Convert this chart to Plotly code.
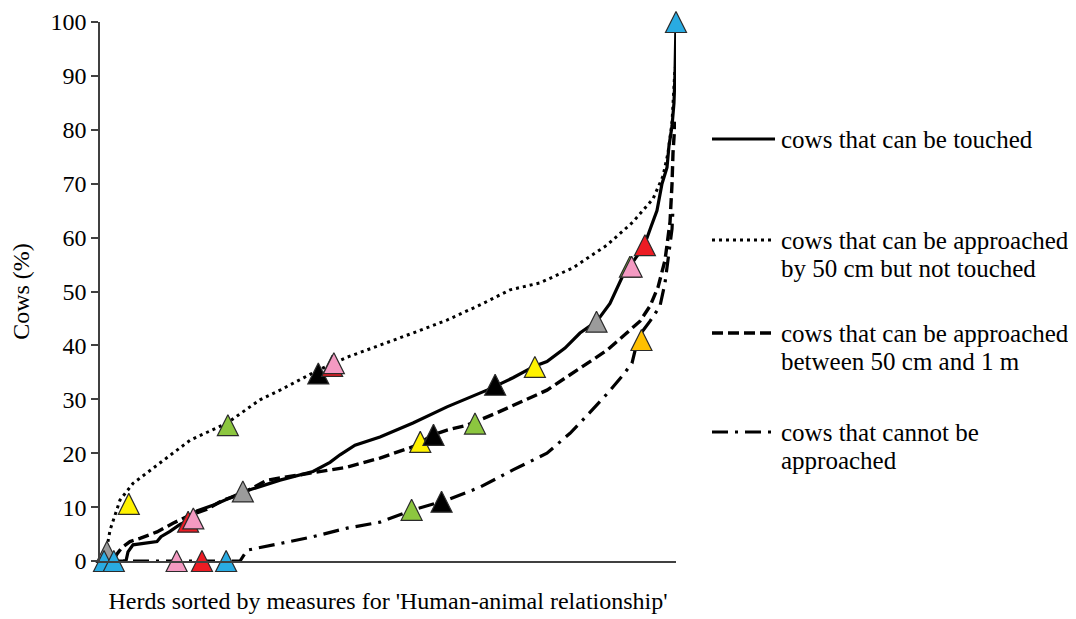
import plotly.graph_objects as go

# ---- curves (x = herd rank, 0..100 ; y = % cows) ----
touched_x = [0, 4.51, 4.86, 5.73, 9.90, 10.59, 12.15, 13.89, 15.28, 16.84, 19.97, 22.57, 24.83,
             26.56, 31.25, 36.98, 39.93, 41.67, 44.27, 48.61, 54.34, 60.24, 67.19, 71.70, 75.52,
             77.60, 80.73, 83.33, 86.28, 88.54, 90.80, 92.53, 94.44, 95.66, 96.70, 97.57, 98.44,
             98.78, 99.31, 99.65, 99.83, 100]
touched_y = [0, 0, 1.7, 3.0, 3.6, 4.5, 5.5, 6.8, 7.5, 9.3, 10.5, 11.7, 12.8,
             13.4, 15.0, 16.6, 18.3, 19.7, 21.5, 23.0, 25.6, 28.6, 31.7, 34.0, 36.2,
             37.0, 39.5, 42.3, 44.5, 47.8, 53.0, 55.5, 58.4, 62.0, 65.0, 70.0, 73.0,
             77.0, 80.7, 85.0, 90.5, 100]

near50_x = [0, 0.52, 1.22, 1.74, 2.60, 3.47, 5.73, 8.68, 10.94, 15.63, 22.05, 27.78, 31.25,
            37.85, 42.88, 48.61, 54.34, 60.24, 65.97, 71.18, 76.39, 82.12, 88.02, 92.53,
            96.01, 97.74, 98.61, 99.31, 99.65, 99.83]
near50_y = [0, 1.5, 2.6, 5.7, 8.5, 11.3, 14.4, 16.8, 18.7, 22.4, 25.6, 29.9, 31.7,
            35.4, 37.8, 40.0, 42.3, 44.7, 47.5, 50.3, 51.6, 54.4, 58.6, 62.9,
            67.2, 71.4, 75.7, 81.4, 87.0, 91.5]

mid_x = [0, 2.26, 2.95, 3.82, 5.21, 6.94, 9.90, 12.67, 15.63, 18.58, 21.35, 24.31, 28.99,
         36.98, 42.88, 48.61, 54.34, 57.81, 60.24, 63.72, 68.92, 77.60, 83.33, 88.02, 90.80,
         93.75, 95.49, 96.88, 98.09, 98.96, 99.31, 99.48, 99.83]
mid_y = [0, 0, 1.3, 2.5, 3.6, 4.2, 5.4, 7.0, 8.5, 9.6, 11.3, 12.3, 15.0,
         16.3, 17.4, 19.1, 21.2, 23.4, 24.3, 25.2, 27.5, 31.7, 35.8, 39.1, 41.7,
         44.5, 47.3, 50.8, 55.8, 62.9, 70.0, 75.7, 81.5]

none_x = [0, 24.31, 25.52, 30.03, 36.98, 42.88, 48.61, 54.34, 60.24, 65.97, 71.70, 77.60,
          81.60, 83.33, 88.02, 90.80, 92.36, 92.88, 93.75, 95.49, 97.22, 98.09, 98.61,
          99.31, 99.48]
none_y = [0, 0, 2.0, 3.0, 4.5, 6.1, 7.2, 9.5, 11.3, 13.7, 16.9, 20.0,
          23.7, 25.6, 31.0, 34.5, 36.7, 39.0, 42.0, 44.5, 47.3, 51.6, 55.8,
          61.6, 65.5]

# ---- highlighted herds (triangles) ----
gray_x, gray_y = [1.2, 24.8, 86.2], [1.7, 12.9, 44.4]
green_x, green_y = [22.2, 54.1, 65.1, 92.0], [25.2, 9.5, 25.5, 54.6]
yellow_x, yellow_y = [5.0, 55.6, 75.5], [10.6, 22.1, 36.0]
black_x, black_y = [37.9, 57.9, 68.6, 59.3], [34.8, 23.4, 32.7, 11.0]
red_x, red_y = [17.7, 15.3, 40.3, 94.6], [0, 7.3, 36.2, 58.6]
pink_x, pink_y = [13.3, 16.2, 40.6, 92.3], [0, 7.9, 36.7, 54.6]
blue_x, blue_y = [0.7, 2.4, 21.9, 100], [0, 0, 0, 100]
orange_x, orange_y = [94.0], [41.0]

legend_names = [
    ["cows that can be touched"],
    ["cows that can be approached", "by 50 cm but not touched"],
    ["cows that can be approached", "between 50 cm and 1 m"],
    ["cows that cannot be", "approached"],
]

FONT = "Liberation Serif"
DOT = "3px,4px"
DASH = "11px,5px"
DASHDOT = "16px,7px,3px,7px"

fig = go.Figure()

line_specs = [
    (touched_x, touched_y, dict(color="black", width=3.2, dash="solid")),
    (near50_x, near50_y, dict(color="black", width=3, dash=DOT)),
    (mid_x, mid_y, dict(color="black", width=3.4, dash=DASH)),
    (none_x, none_y, dict(color="black", width=3.2, dash=DASHDOT)),
]
for (xs, ys, ln), nm in zip(line_specs, legend_names):
    fig.add_trace(go.Scatter(x=xs, y=ys, mode="lines", line=ln,
                             name=" ".join(nm), showlegend=False, hoverinfo="skip"))

MS = 21
marker_specs = [
    (gray_x, gray_y, "#9B9B9B"),
    (green_x, green_y, "#8CC63F"),
    (yellow_x, yellow_y, "#FFF200"),
    (black_x, black_y, "#000000"),
    (red_x, red_y, "#ED1C24"),
    (pink_x, pink_y, "#F49AC2"),
    (blue_x, blue_y, "#29ABE2"),
    (orange_x, orange_y, "#FFC000"),
]
for xs, ys, col in marker_specs:
    fig.add_trace(go.Scatter(
        x=xs, y=ys, mode="markers", showlegend=False, cliponaxis=False,
        marker=dict(symbol="arrow-down", angle=180, standoff=MS / 2, size=MS,
                    color=col, line=dict(color="#2b2b2b", width=1.2))))

# ---- custom legend ----
leg_y = [0.7829, 0.5955, 0.4230, 0.2393]
leg_dash = ["solid", DOT, DASH, DASHDOT]
leg_w = [3.2, 3, 3.4, 3.2]
for yy, ds, w, names in zip(leg_y, leg_dash, leg_w, legend_names):
    fig.add_shape(type="line", xref="paper", yref="paper", x0=1.0625, x1=1.1719,
                  y0=yy, y1=yy, line=dict(color="black", width=w, dash=ds))
    for k, txt in enumerate(names):
        fig.add_annotation(text=txt, xref="paper", yref="paper", x=1.1788,
                           y=yy - k * 0.052, xanchor="left", yanchor="middle",
                           showarrow=False, font=dict(family=FONT, size=25, color="black"))

# page body has an 8px margin: shift the figure so the plot lands where it should
fig.update_layout(
    width=1068, height=611,
    margin=dict(l=92, r=400, t=14, b=58, autoexpand=False),
    paper_bgcolor="white", plot_bgcolor="white",
    font=dict(family=FONT, size=24, color="black"),
    showlegend=False,
    xaxis=dict(range=[0, 100], showgrid=False, zeroline=False, showticklabels=False,
               ticks="", showline=True, linecolor="#404040", linewidth=1.5,
               automargin=False,
               title=dict(text="Herds sorted by measures for 'Human-animal relationship'",
                          font=dict(family=FONT, size=24), standoff=30)),
    yaxis=dict(range=[0, 100], dtick=10, showgrid=False, zeroline=False,
               showline=True, linecolor="#404040", linewidth=1.5,
               ticks="outside", ticklen=7, tickcolor="#404040", tickwidth=1.5,
               tickfont=dict(family=FONT, size=24), automargin=False,
               title=dict(text="Cows (%)", font=dict(family=FONT, size=24), standoff=14)),
)

fig.write_html("out.html")
